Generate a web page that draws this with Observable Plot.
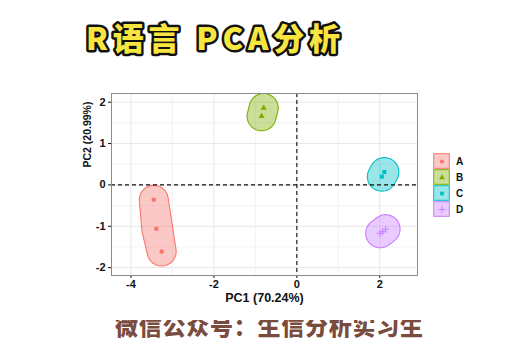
<!DOCTYPE html>
<html><head><meta charset="utf-8">
<script src="https://cdn.jsdelivr.net/npm/d3@7"></script>
<script src="https://cdn.jsdelivr.net/npm/@observablehq/plot@0.6"></script>
<style>
html,body{margin:0;padding:0;background:#fff;}
body{width:520px;height:360px;position:relative;overflow:hidden;font-family:"Liberation Sans",Arial,sans-serif;}
#titles{position:absolute;left:0;top:0;}
#chart{position:absolute;left:0;top:80px;}
#legend{position:absolute;left:433px;top:151px;}
</style></head>
<body>
<svg id="titles" width="520" height="360">
  <text x="213" y="50" text-anchor="middle" textLength="254" lengthAdjust="spacing"
    style="font-family:'Noto Sans CJK SC';font-weight:900;font-size:31px;fill:#f7e640;stroke:#111;stroke-width:5px;stroke-linejoin:round;paint-order:stroke fill;">R语言  PCA分析</text>
  <text x="269" y="335" text-anchor="middle" textLength="308" lengthAdjust="spacing"
    style="font-family:'Noto Sans CJK SC';font-weight:900;font-size:23px;fill:#7a4c3e;">微信公众号：生信分析实习生</text>
</svg>
<div id="chart"></div>
<div id="legend"></div>
<script>
// ---- data ----
const groups = ["A", "B", "C", "D"];
const colors = ["#F8766D", "#7CAE00", "#00BFC4", "#C77CFF"];
const sample = ["A", "A", "A", "B", "B", "C", "C", "D", "D", "D"];
const pc1 = [-3.45, -3.39, -3.26, -0.80, -0.85, 2.11, 2.05, 2.01, 2.07, 2.14];
const pc2 = [-0.36, -1.06, -1.61, 1.86, 1.66, 0.31, 0.20, -1.17, -1.13, -1.07];
const xTicks = [-4, -2, 0, 2];
const yTicks = [-2, -1, 0, 1, 2];
const xMinor = [-3, -1, 1];
const yMinor = [-1.5, -0.5, 0.5, 1.5];
const xLabel = "PC1 (70.24%)";
const yLabel = "PC2 (20.99%)";

const xDomain = [-4.47, 2.91];
const yDomain = [-2.19, 2.21];
const W = 520, H = 240, mL = 111, mR = 103, mT = 13, mB = 45;

const data = sample.map((g, i) => ({g, x: pc1[i], y: pc2[i]}));

// expanded hull outline: points on a circle around every sample, hull taken per group
const expandPx = 14.5;
const rx = expandPx / ((W - mL - mR) / (xDomain[1] - xDomain[0]));
const ry = expandPx / ((H - mT - mB) / (yDomain[1] - yDomain[0]));
const hullPts = [];
data.forEach(d => {
  for (let k = 0; k < 60; k++) {
    const a = 2 * Math.PI * k / 60;
    hullPts.push({g: d.g, x: d.x + rx * Math.cos(a), y: d.y + ry * Math.sin(a)});
  }
});

const symbolOf = {A: "circle", B: "triangle", C: "square", D: "plus"};
const filled = data.filter(d => d.g !== "D");
const plus = data.filter(d => d.g === "D");

const fmt = d => d < 0 ? "-" + Math.abs(d) : String(d);

const chart = Plot.plot({
  width: W, height: H,
  marginLeft: mL, marginRight: mR, marginTop: mT, marginBottom: mB,
  style: {fontFamily: "'Liberation Sans', Arial, sans-serif", fontSize: "11px", fontWeight: "bold", color: "#111", background: "#fff"},
  x: {domain: xDomain, ticks: xTicks, tickSize: 3, tickPadding: 2, label: null, tickFormat: fmt},
  y: {domain: yDomain, ticks: yTicks, tickSize: 3, tickPadding: 3, label: null, tickFormat: fmt},
  color: {domain: groups, range: colors},
  symbol: {domain: groups, range: groups.map(g => symbolOf[g])},
  marks: [
    Plot.ruleX(xMinor, {stroke: "#ececec", strokeWidth: 0.6}),
    Plot.ruleY(yMinor, {stroke: "#ececec", strokeWidth: 0.6}),
    Plot.ruleX(xTicks, {stroke: "#e6e6e6", strokeWidth: 1}),
    Plot.ruleY(yTicks, {stroke: "#e6e6e6", strokeWidth: 1}),
    Plot.hull(hullPts, {x: "x", y: "y", z: "g", fill: "g", stroke: "g", fillOpacity: 0.4, strokeWidth: 1.1, curve: "linear-closed"}),
    Plot.dot(filled, {x: "x", y: "y", fill: "g", symbol: "g", r: 2.3}),
    Plot.dot(plus, {x: "x", y: "y", stroke: "g", symbol: "g", r: 2.4, strokeWidth: 0.9}),
    Plot.ruleX([0], {stroke: "#111", strokeDasharray: "4,3", strokeWidth: 1.1}),
    Plot.ruleY([0], {stroke: "#111", strokeDasharray: "4,3", strokeWidth: 1.1}),
    Plot.frame({stroke: "#8a8a8a", strokeWidth: 1}),
    Plot.text([xLabel], {frameAnchor: "bottom", dy: 26.5, text: d => d, fontSize: 12.5, fontWeight: "bold", fill: "#111"}),
    Plot.text([yLabel], {frameAnchor: "left", dx: -24, dy: -17, rotate: -90, text: d => d, fontSize: 10.5, fontWeight: "bold", fill: "#111"})
  ]
});
document.getElementById("chart").appendChild(chart);

const legend = Plot.plot({
  width: 60, height: 66, margin: 0,
  style: {fontFamily: "'Liberation Sans', Arial, sans-serif", fontSize: "10px", fontWeight: "bold", color: "#111", background: "transparent"},
  x: {type: "band", domain: ["key"], range: [0, 17], padding: 0, axis: null},
  y: {type: "band", domain: groups, range: [1, 66], padding: 0, axis: null},
  color: {domain: groups, range: colors},
  symbol: {domain: groups, range: groups.map(g => symbolOf[g])},
  marks: [
    Plot.cell(groups, {x: () => "key", y: d => d, fill: d => d, fillOpacity: 0.4, stroke: d => d, strokeWidth: 1, inset: 0.7}),
    Plot.dot(groups.filter(g => g !== "D"), {x: () => "key", y: d => d, fill: d => d, symbol: d => d, r: 2.1}),
    Plot.dot(["D"], {x: () => "key", y: d => d, stroke: d => d, symbol: d => d, r: 2.4, strokeWidth: 0.9}),
    Plot.text(groups, {x: () => "key", y: d => d, text: d => d, dx: 14, textAnchor: "start", fill: "#111"})
  ]
});
document.getElementById("legend").appendChild(legend);
</script>
</body></html>
